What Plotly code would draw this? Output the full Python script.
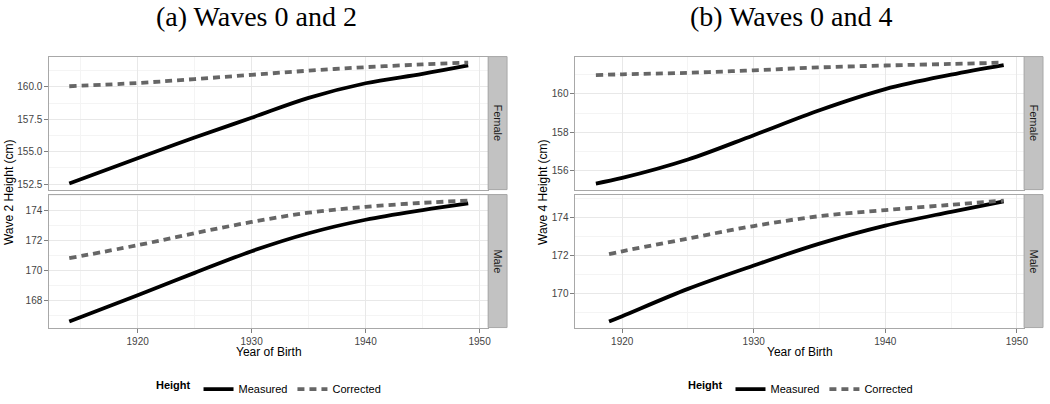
import plotly.graph_objects as go

# ---------------- data ----------------
years_a = [1914, 1920, 1925, 1930, 1935, 1940, 1945, 1949]
a_female_measured = [152.55, 154.50, 156.10, 157.62, 159.15, 160.28, 161.00, 161.65]
a_female_corrected = [160.05, 160.30, 160.60, 160.93, 161.25, 161.52, 161.73, 161.87]
a_male_measured = [166.60, 168.35, 169.85, 171.30, 172.50, 173.40, 174.05, 174.50]
a_male_corrected = [170.83, 171.70, 172.50, 173.25, 173.87, 174.26, 174.53, 174.68]

years_b_female = [1918, 1920, 1925, 1930, 1935, 1940, 1945, 1949]
years_b_male = [1919, 1920, 1925, 1930, 1935, 1940, 1945, 1949]
b_female_measured = [155.33, 155.62, 156.58, 157.85, 159.15, 160.25, 161.00, 161.50]
b_female_corrected = [160.98, 161.02, 161.10, 161.23, 161.38, 161.48, 161.56, 161.63]
b_male_measured = [168.50, 168.78, 170.22, 171.45, 172.60, 173.55, 174.28, 174.83]
b_male_corrected = [172.05, 172.20, 172.87, 173.53, 174.05, 174.37, 174.65, 174.87]

series_names = ["Measured", "Corrected"]
facet_labels = ["Female", "Male"]
titles = ["(a) Waves 0 and 2", "(b) Waves 0 and 4"]
y_titles = ["Wave 2 Height (cm)", "Wave 4 Height (cm)"]
x_title = "Year of Birth"
legend_title = "Height"

W, H = 1050, 404


def px_x(p):
    return p / W


def px_y(p):
    return 1 - p / H


def expand(vals, f=0.05):
    lo, hi = min(vals), max(vals)
    r = hi - lo
    return [lo - f * r, hi + f * r]


fig = go.Figure()

styles = {
    "Measured": dict(color="#000000", width=3.8, dash="solid"),
    "Corrected": dict(color="#666666", width=3.8, dash="7px,5px"),
}

# panel geometry (pixels)
left_x = [49.5, 490]
right_x = [577.7, 1028]
top_y = [57, 191]
bot_y = [196, 330]
strip_w = 19

xr_a = expand(years_a)
xr_b = expand(years_b_female + years_b_male)

panels = [
    ("x", "y", years_a, a_female_measured, a_female_corrected, xr_a, left_x, top_y, "legend", True, False, 2.5, 152.5, ".1f"),
    ("x2", "y2", years_a, a_male_measured, a_male_corrected, xr_a, left_x, bot_y, "legend", False, True, 2, 166, "d"),
    ("x3", "y3", years_b_female, b_female_measured, b_female_corrected, xr_b, right_x, top_y, "legend2", True, False, 2, 154, "d"),
    ("x4", "y4", years_b_male, b_male_measured, b_male_corrected, xr_b, right_x, bot_y, "legend2", False, True, 2, 168, "d"),
]

grid_major = "#e8e8e8"
grid_minor = "#f4f4f4"
border = "#a8a8a8"
tick_col = "#7f7f7f"
tick_font = dict(family="Liberation Sans, Arial, sans-serif", size=10, color="#444444")

for i, (xa, ya, yrs, meas, corr, xr, xd, yd, leg, showleg, bottom, ydt, yt0, yfmt) in enumerate(panels):
    for name, vals in zip(series_names, [meas, corr]):
        st = styles[name]
        fig.add_trace(go.Scatter(
            x=yrs, y=vals, mode="lines", name=name, xaxis=xa, yaxis=ya,
            line=dict(color=st["color"], width=st["width"], dash=st["dash"], shape="spline", smoothing=1.0),
            legend=leg, showlegend=showleg, hoverinfo="skip",
        ))
    suffix = "" if i == 0 else str(i + 1)
    yr = expand(meas + corr)
    fig.layout["xaxis" + suffix] = dict(
        domain=[px_x(xd[0]), px_x(xd[1])], anchor=ya, range=xr,
        tick0=1920, dtick=10, showgrid=True, gridcolor=grid_major, gridwidth=1,
        minor=dict(dtick=5, tick0=1915, showgrid=True, gridcolor=grid_minor, gridwidth=1),
        showline=True, linecolor=border, linewidth=1, mirror=True, zeroline=False,
        ticks="outside" if bottom else "", ticklen=4, tickcolor=tick_col,
        showticklabels=bottom, tickfont=tick_font,
    )
    fig.layout["yaxis" + suffix] = dict(
        domain=[px_y(yd[1]), px_y(yd[0])], anchor=xa, range=yr,
        tick0=yt0, dtick=ydt, tickformat=yfmt, showgrid=True, gridcolor=grid_major, gridwidth=1,
        minor=dict(dtick=ydt / 2, tick0=yt0, showgrid=True, gridcolor=grid_minor, gridwidth=1),
        showline=True, linecolor=border, linewidth=1, mirror=True, zeroline=False,
        ticks="outside", ticklen=4, tickcolor=tick_col, tickfont=tick_font,
    )

shapes = []
annotations = []
for xd in [left_x, right_x]:
    for yd, lab in [(top_y, facet_labels[0]), (bot_y, facet_labels[1])]:
        x0, x1 = xd[1], xd[1] + strip_w
        shapes.append(dict(type="rect", xref="paper", yref="paper",
                           x0=px_x(x0), x1=px_x(x1), y0=px_y(yd[1]), y1=px_y(yd[0]),
                           fillcolor="#c2c2c2", line=dict(color=border, width=1), layer="above"))
        annotations.append(dict(text=lab, x=px_x((x0 + x1) / 2), y=px_y((yd[0] + yd[1]) / 2),
                                xref="paper", yref="paper", showarrow=False, textangle=90,
                                font=dict(family="Liberation Sans, Arial, sans-serif", size=11, color="#1a1a1a"),
                                xanchor="center", yanchor="middle"))

# titles
for t, cx in zip(titles, [257, 795]):
    annotations.append(dict(text=t, x=px_x(cx), y=px_y(17), xref="paper", yref="paper",
                            showarrow=False, xanchor="center", yanchor="middle",
                            font=dict(family="Liberation Serif, Times New Roman, serif", size=28, color="#000")))
# y titles
for t, cx in zip(y_titles, [9, 545]):
    annotations.append(dict(text=t, x=px_x(cx), y=px_y(193.5), xref="paper", yref="paper",
                            showarrow=False, xanchor="center", yanchor="middle", textangle=-90,
                            font=dict(family="Liberation Sans, Arial, sans-serif", size=12, color="#000")))
# x titles
for xd in [left_x, right_x]:
    annotations.append(dict(text=x_title, x=px_x((xd[0] + xd[1]) / 2), y=px_y(355), xref="paper", yref="paper",
                            showarrow=False, xanchor="center", yanchor="middle",
                            font=dict(family="Liberation Sans, Arial, sans-serif", size=12, color="#000")))

legend_common = dict(
    orientation="h", xanchor="center", yanchor="middle", y=px_y(392),
    title=dict(text="<b>" + legend_title + "</b>", side="left",
               font=dict(family="Liberation Sans, Arial, sans-serif", size=11, color="#000")),
    font=dict(family="Liberation Sans, Arial, sans-serif", size=11, color="#000"),
    itemwidth=30, bgcolor="rgba(0,0,0,0)", tracegroupgap=0,
)

fig.update_layout(
    width=W, height=H, autosize=False,
    margin=dict(l=0, r=0, t=0, b=0),
    paper_bgcolor="white", plot_bgcolor="white",
    shapes=shapes, annotations=annotations,
    legend=dict(x=px_x(271), **legend_common),
    legend2=dict(x=px_x(805), **legend_common),
)

fig.write_html("out.html", config={"displayModeBar": False},
               post_script="document.body.style.margin='0';document.body.style.padding='0';")
